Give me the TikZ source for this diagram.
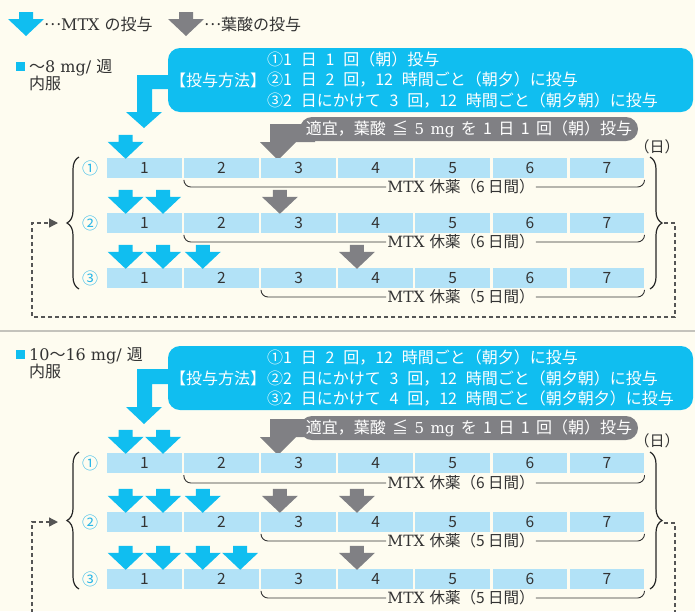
\documentclass[tikz,border=0pt]{standalone}
\usepackage{fontspec}
\setmainfont{DejaVu Serif}
\newfontfamily\jp{Noto Sans CJK JP}
\newcommand\howspace{\spaceskip=0.55em\relax}
\newcommand\faspace{\spaceskip=0.4em\relax}
\usetikzlibrary{shapes,arrows,arrows.meta,positioning,decorations.pathreplacing}

\definecolor{bgcream}{RGB}{254,252,240}
\definecolor{mtxblue}{RGB}{16,190,240}
\definecolor{cellblue}{RGB}{178,226,247}
\definecolor{fagray}{RGB}{128,128,132}
\definecolor{txtgray}{RGB}{51,51,51}
\definecolor{numblue}{RGB}{40,182,232}
\definecolor{sepgray}{RGB}{196,195,188}
\definecolor{loopgray}{RGB}{85,85,85}

\begin{document}
\begin{tikzpicture}[
    x=1pt, y=-1pt,
    day cell/.style={rectangle,fill=cellblue,minimum width=74.7pt,minimum height=20pt,inner sep=0pt,text=txtgray,font=\jp\fontsize{15.5}{15.5}\selectfont},
    how box/.style={rectangle,rounded corners=12pt,fill=mtxblue,minimum width=525pt,minimum height=64pt},
    how text/.style={anchor=west,text=white,align=left,inner sep=0pt,font=\jp\fontsize{16}{20.5}\selectfont\howspace},
    fa box/.style={rectangle,rounded corners=12pt,fill=fagray,minimum width=338pt,minimum height=24pt,inner sep=0pt,text=white,font=\jp\fontsize{16}{16}\selectfont\faspace},
    rest label/.style={fill=bgcream,inner sep=1pt,text=txtgray,font=\fontsize{15.5}{15.5}\selectfont},
    rest line/.style={draw=txtgray,line width=0.9pt,rounded corners=7pt},
    row label/.style={text=numblue,font=\jp\fontsize{16}{16}\selectfont},
    dose label/.style={anchor=west,align=left,text=txtgray,inner sep=0pt,font=\fontsize{16}{17}\selectfont},
    day unit/.style={text=txtgray,font=\jp\fontsize{15}{15}\selectfont},
    legend text/.style={anchor=west,inner sep=0pt,text=txtgray,font=\fontsize{16}{16}\selectfont},
    brace line/.style={draw=black!85,line width=1.2pt,decorate,decoration={brace,amplitude=12pt}},
    loop line/.style={draw=loopgray,line width=1.3pt,dash pattern=on 4pt off 3pt,-{Triangle[length=9pt,width=9pt]}},
    mtx arrow/.pic={\fill[mtxblue] (-7,-23) -- (7,-23) -- (7,-16) -- (18,-16) -- (0,1) -- (-18,-16) -- (-7,-16) -- cycle;},
    fa arrow/.pic={\fill[fagray] (-7,-23) -- (7,-23) -- (7,-16) -- (18,-16) -- (0,1) -- (-18,-16) -- (-7,-16) -- cycle;}
]
\useasboundingbox (0,0) rectangle (695,611);
\clip (0,0) rectangle (695,611);
\fill[bgcream] (0,0) rectangle (695,611);

% Legend
\pic at (26,35) {mtx arrow};
\node[legend text] (legmtx) at (44,24) {{\jp\raisebox{0.28em}{…}}MTX {\jp の投与}};
\pic at (186,35) {fa arrow};
\node[legend text] (legfa) at (204,24) {\jp\raisebox{0.28em}{…}葉酸の投与};

% Separator
\draw[sepgray,line width=2pt] (0,331) -- (695,331);

%%%%% Section 1: up to 8 mg
\node[fill=mtxblue,minimum size=9pt,inner sep=0pt] (sq1) at (20,66) {};
\node[dose label] (dose1) at (29,75) {{\jp ～}8 mg/ {\jp 週}\\{\jp 内服}};

% Method box
\fill[mtxblue] (137,75) -- (180,75) -- (180,89) -- (152,89) -- (152,112) -- (162,112) -- (144,128) -- (126,112) -- (137,112) -- cycle;
\node[how box] (how1) at (430.5,80) {};
\node[how text] (how1lab) at (170,80) {【投与方法】};
\node[how text] (how1txt) at (267,80) {①1 日 1 回（朝）投与\\②1 日 2 回，12 時間ごと（朝夕）に投与\\③2 日にかけて 3 回，12 時間ごと（朝夕朝）に投与};

% Folic acid box
\fill[fagray] (270,124) -- (315,124) -- (315,142) -- (296,142) -- (278,160) -- (260,142) -- (270,142) -- cycle;
\node[fa box] (fa1) at (469,129) {適宜，葉酸 ≦ {\rmfamily\fontsize{15}{15}\selectfont 5 mg} を 1 日 1 回（朝）投与};
\node[day unit] (unit1) at (657,147) {（日）};

% Row 1
\node[row label] (lab1) at (90,168) {①};
\node[day cell] (r11) at (144.35,168) {1};
\node[day cell, right=2pt of r11] (r12) {2};
\node[day cell, right=2pt of r12] (r13) {3};
\node[day cell, right=2pt of r13] (r14) {4};
\node[day cell, right=2pt of r14] (r15) {5};
\node[day cell, right=2pt of r15] (r16) {6};
\node[day cell, right=2pt of r16] (r17) {7};
\pic at ([xshift=-18.7pt]r11.north) {mtx arrow};
\node[rest label] (rest1) at (461,187) {MTX {\jp 休薬（6 日間）}};
\draw[rest line] ([yshift=-2pt]r12.south west) |- (rest1.west);
\draw[rest line] (rest1.east) -| ([yshift=-2pt]r17.south east);

% Row 2
\node[row label] (lab2) at (90,223) {②};
\node[day cell] (r21) at (144.35,223) {1};
\node[day cell, right=2pt of r21] (r22) {2};
\node[day cell, right=2pt of r22] (r23) {3};
\node[day cell, right=2pt of r23] (r24) {4};
\node[day cell, right=2pt of r24] (r25) {5};
\node[day cell, right=2pt of r25] (r26) {6};
\node[day cell, right=2pt of r26] (r27) {7};
\pic at ([xshift=-18.7pt]r21.north) {mtx arrow};
\pic at ([xshift=18.7pt]r21.north) {mtx arrow};
\pic at ([xshift=-18.7pt]r23.north) {fa arrow};
\node[rest label] (rest2) at (461,242) {MTX {\jp 休薬（6 日間）}};
\draw[rest line] ([yshift=-2pt]r22.south west) |- (rest2.west);
\draw[rest line] (rest2.east) -| ([yshift=-2pt]r27.south east);

% Row 3
\node[row label] (lab3) at (90,278) {③};
\node[day cell] (r31) at (144.35,278) {1};
\node[day cell, right=2pt of r31] (r32) {2};
\node[day cell, right=2pt of r32] (r33) {3};
\node[day cell, right=2pt of r33] (r34) {4};
\node[day cell, right=2pt of r34] (r35) {5};
\node[day cell, right=2pt of r35] (r36) {6};
\node[day cell, right=2pt of r36] (r37) {7};
\pic at ([xshift=-18.7pt]r31.north) {mtx arrow};
\pic at ([xshift=18.7pt]r31.north) {mtx arrow};
\pic at ([xshift=-18.7pt]r32.north) {mtx arrow};
\pic at ([xshift=-18.7pt]r34.north) {fa arrow};
\node[rest label] (rest3) at (461,297) {MTX {\jp 休薬（5 日間）}};
\draw[rest line] ([yshift=-2pt]r33.south west) |- (rest3.west);
\draw[rest line] (rest3.east) -| ([yshift=-2pt]r37.south east);

% Braces and repeat loop
\draw[brace line] (79,289) -- (79,157);
\draw[brace line] (650,157) -- (650,289);
\coordinate (lb1) at (58,223);
\coordinate (rb1) at (664,223);
\draw[loop line] (rb1) -- (675,223) -- (675,317) -- (32,317) -- (32,223) -- (lb1);

%%%%% Section 2: 10 to 16 mg
\node[fill=mtxblue,minimum size=9pt,inner sep=0pt] (sq2) at (20,354) {};
\node[dose label] (dose2) at (29,363) {10{\jp ～}16 mg/ {\jp 週}\\{\jp 内服}};

% Method box
\fill[mtxblue] (137,369) -- (180,369) -- (180,384) -- (152,384) -- (152,407) -- (162,407) -- (144,424) -- (126,407) -- (137,407) -- cycle;
\node[how box] (how2) at (430.5,378) {};
\node[how text] (how2lab) at (170,378) {【投与方法】};
\node[how text] (how2txt) at (267,378) {①1 日 2 回，12 時間ごと（朝夕）に投与\\②2 日にかけて 3 回，12 時間ごと（朝夕朝）に投与\\③2 日にかけて 4 回，12 時間ごと（朝夕朝夕）に投与};

% Folic acid box
\fill[fagray] (270,419) -- (315,419) -- (315,437) -- (296,437) -- (278,455) -- (260,437) -- (270,437) -- cycle;
\node[fa box] (fa2) at (469,428) {適宜，葉酸 ≦ {\rmfamily\fontsize{15}{15}\selectfont 5 mg} を 1 日 1 回（朝）投与};
\node[day unit] (unit2) at (657,441) {（日）};

% Row 1
\node[row label] (lab4) at (90,463) {①};
\node[day cell] (r41) at (144.35,463) {1};
\node[day cell, right=2pt of r41] (r42) {2};
\node[day cell, right=2pt of r42] (r43) {3};
\node[day cell, right=2pt of r43] (r44) {4};
\node[day cell, right=2pt of r44] (r45) {5};
\node[day cell, right=2pt of r45] (r46) {6};
\node[day cell, right=2pt of r46] (r47) {7};
\pic at ([xshift=-18.7pt]r41.north) {mtx arrow};
\pic at ([xshift=18.7pt]r41.north) {mtx arrow};
\node[rest label] (rest4) at (461,483) {MTX {\jp 休薬（6 日間）}};
\draw[rest line] ([yshift=-2pt]r42.south west) |- (rest4.west);
\draw[rest line] (rest4.east) -| ([yshift=-2pt]r47.south east);

% Row 2
\node[row label] (lab5) at (90,522) {②};
\node[day cell] (r51) at (144.35,522) {1};
\node[day cell, right=2pt of r51] (r52) {2};
\node[day cell, right=2pt of r52] (r53) {3};
\node[day cell, right=2pt of r53] (r54) {4};
\node[day cell, right=2pt of r54] (r55) {5};
\node[day cell, right=2pt of r55] (r56) {6};
\node[day cell, right=2pt of r56] (r57) {7};
\pic at ([xshift=-18.7pt]r51.north) {mtx arrow};
\pic at ([xshift=18.7pt]r51.north) {mtx arrow};
\pic at ([xshift=-18.7pt]r52.north) {mtx arrow};
\pic at ([xshift=-18.7pt]r53.north) {fa arrow};
\pic at ([xshift=-18.7pt]r54.north) {fa arrow};
\node[rest label] (rest5) at (461,541) {MTX {\jp 休薬（5 日間）}};
\draw[rest line] ([yshift=-2pt]r53.south west) |- (rest5.west);
\draw[rest line] (rest5.east) -| ([yshift=-2pt]r57.south east);

% Row 3
\node[row label] (lab6) at (90,579) {③};
\node[day cell] (r61) at (144.35,579) {1};
\node[day cell, right=2pt of r61] (r62) {2};
\node[day cell, right=2pt of r62] (r63) {3};
\node[day cell, right=2pt of r63] (r64) {4};
\node[day cell, right=2pt of r64] (r65) {5};
\node[day cell, right=2pt of r65] (r66) {6};
\node[day cell, right=2pt of r66] (r67) {7};
\pic at ([xshift=-18.7pt]r61.north) {mtx arrow};
\pic at ([xshift=18.7pt]r61.north) {mtx arrow};
\pic at ([xshift=-18.7pt]r62.north) {mtx arrow};
\pic at ([xshift=18.7pt]r62.north) {mtx arrow};
\pic at ([xshift=-18.7pt]r64.north) {fa arrow};
\node[rest label] (rest6) at (461,598) {MTX {\jp 休薬（5 日間）}};
\draw[rest line] ([yshift=-2pt]r63.south west) |- (rest6.west);
\draw[rest line] (rest6.east) -| ([yshift=-2pt]r67.south east);

% Braces and repeat loop
\draw[brace line] (79,589) -- (79,452);
\draw[brace line] (650,452) -- (650,589);
\coordinate (lb2) at (58,522);
\coordinate (rb2) at (664,523);
\draw[loop line] (rb2) -- (675,523) -- (675,640) -- (32,640) -- (32,522) -- (lb2);

\end{tikzpicture}
\end{document}
